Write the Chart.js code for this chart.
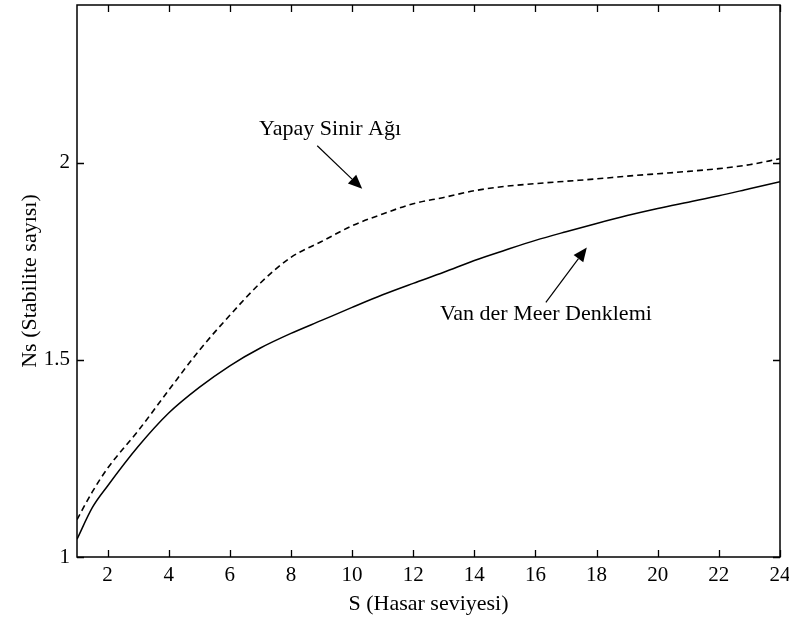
<!DOCTYPE html>
<html>
<head>
<meta charset="utf-8">
<script src="https://cdn.jsdelivr.net/npm/chart.js@4.4.1/dist/chart.umd.min.js"></script>
<style>
  html, body { margin: 0; padding: 0; background: #fff; }
  #wrap { width: 789px; height: 621px; }
</style>
</head>
<body>
<div id="wrap"><canvas id="chart" width="789" height="621"></canvas></div>
<script>
// S values (hasar seviyesi)
let sValues = [1, 1.5, 2, 3, 4, 5, 6, 7, 8, 9, 10, 11, 12, 13, 14, 15, 16, 17, 18, 19, 20, 21, 22, 23, 24];
// solid line
let vanDerMeer = [1.045, 1.125, 1.18, 1.28, 1.365, 1.43, 1.485, 1.53, 1.567, 1.60, 1.633, 1.665, 1.694, 1.722, 1.752, 1.778, 1.803, 1.825, 1.846, 1.866, 1.884, 1.900, 1.916, 1.934, 1.952];
// dashed line
let yapaySinir = [1.095, 1.165, 1.225, 1.32, 1.423, 1.524, 1.613, 1.695, 1.76, 1.80, 1.84, 1.87, 1.896, 1.912, 1.929, 1.94, 1.947, 1.953, 1.959, 1.966, 1.972, 1.978, 1.985, 1.995, 2.01];

let xTicks = [2, 4, 6, 8, 10, 12, 14, 16, 18, 20, 22, 24];
let yTicks = [1, 1.5, 2];

// text labels with arrows, in data units
let notes = [
    { text: 'Yapay Sinir Ağı', x: 9.28, y: 2.086, from: [8.86, 2.043], to: [10.33, 1.934] },
    { text: 'Van der Meer Denklemi', x: 16.34, y: 1.615, from: [16.34, 1.646], to: [17.68, 1.785] }
];

const fontFamily = '"Liberation Serif", "Times New Roman", serif';
const fontSize = 22;
const tickSize = 21;

function toPoints(ys) {
    return sValues.map((s, i) => ({ x: s, y: ys[i] }));
}

function noPadding(scale) {
    scale.paddingTop = 0;
    scale.paddingBottom = 0;
    scale.paddingLeft = 0;
    scale.paddingRight = 0;
}

// border, inward ticks and annotations
const frameAndNotes = {
    id: 'frameAndNotes',
    afterDatasetsDraw(chart) {
        const ctx = chart.ctx;
        const area = chart.chartArea;
        const xs = chart.scales.x;
        const ys = chart.scales.y;
        ctx.save();
        ctx.strokeStyle = '#000';
        ctx.lineWidth = 1.5;
        ctx.strokeRect(area.left, area.top, area.right - area.left, area.bottom - area.top);

        ctx.lineWidth = 1.3;
        ctx.beginPath();
        for (let t of xTicks) {
            let px = Math.round(xs.getPixelForValue(t)) + 0.5;
            ctx.moveTo(px, area.bottom); ctx.lineTo(px, area.bottom - 7);
            ctx.moveTo(px, area.top); ctx.lineTo(px, area.top + 7);
        }
        for (let t of yTicks) {
            let py = Math.round(ys.getPixelForValue(t)) + 0.5;
            ctx.moveTo(area.left, py); ctx.lineTo(area.left + 7, py);
            ctx.moveTo(area.right, py); ctx.lineTo(area.right - 7, py);
        }
        ctx.stroke();

        ctx.fillStyle = '#000';
        ctx.font = fontSize + 'px ' + fontFamily;
        ctx.textAlign = 'center';
        ctx.textBaseline = 'middle';
        for (let n of notes) {
            ctx.fillText(n.text, xs.getPixelForValue(n.x), ys.getPixelForValue(n.y));
            let x1 = xs.getPixelForValue(n.from[0]), y1 = ys.getPixelForValue(n.from[1]);
            let x2 = xs.getPixelForValue(n.to[0]), y2 = ys.getPixelForValue(n.to[1]);
            let ang = Math.atan2(y2 - y1, x2 - x1);
            let head = 14, wide = 6;
            ctx.lineWidth = 1.2;
            ctx.beginPath();
            ctx.moveTo(x1, y1);
            ctx.lineTo(x2 - head * Math.cos(ang), y2 - head * Math.sin(ang));
            ctx.stroke();
            ctx.beginPath();
            ctx.moveTo(x2, y2);
            ctx.lineTo(x2 - head * Math.cos(ang) + wide * Math.sin(ang), y2 - head * Math.sin(ang) - wide * Math.cos(ang));
            ctx.lineTo(x2 - head * Math.cos(ang) - wide * Math.sin(ang), y2 - head * Math.sin(ang) + wide * Math.cos(ang));
            ctx.closePath();
            ctx.fill();
        }
        ctx.restore();
    }
};

const ctx = document.getElementById('chart').getContext('2d');
const chart = new Chart(ctx, {
    type: 'line',
    data: {
        datasets: [
            {
                label: 'Van der Meer Denklemi',
                data: toPoints(vanDerMeer),
                borderColor: '#000',
                borderWidth: 1.5,
                pointRadius: 0,
                cubicInterpolationMode: 'monotone'
            },
            {
                label: 'Yapay Sinir Ağı',
                data: toPoints(yapaySinir),
                borderColor: '#000',
                borderWidth: 1.6,
                borderDash: [6, 4],
                pointRadius: 0,
                cubicInterpolationMode: 'monotone'
            }
        ]
    },
    options: {
        responsive: false,
        animation: false,
        layout: { padding: { top: 5, right: 9, left: 0, bottom: 0 } },
        plugins: { legend: { display: false }, tooltip: { enabled: false } },
        scales: {
            x: {
                type: 'linear',
                min: 1,
                max: 24,
                afterBuildTicks: (scale) => { scale.ticks = xTicks.map(v => ({ value: v })); },
                afterFit: (scale) => { scale.height = 64; noPadding(scale); },
                grid: { display: false, drawTicks: false },
                border: { display: false },
                ticks: { color: '#000', padding: 6, maxRotation: 0, callback: (v) => String(v), font: { family: fontFamily, size: tickSize } },
                title: { display: true, text: 'S (Hasar seviyesi)', color: '#000', padding: { top: 0 }, font: { family: fontFamily, size: fontSize } }
            },
            y: {
                type: 'linear',
                min: 1,
                max: 2.4,
                afterBuildTicks: (scale) => { scale.ticks = yTicks.map(v => ({ value: v })); },
                afterFit: (scale) => { scale.width = 77; noPadding(scale); },
                grid: { display: false, drawTicks: false },
                border: { display: false },
                ticks: { color: '#000', padding: 7, callback: (v) => String(v), font: { family: fontFamily, size: tickSize } },
                title: { display: true, text: 'Ns (Stabilite sayısı)', color: '#000', padding: { top: 17, bottom: 0 }, font: { family: fontFamily, size: fontSize } }
            }
        }
    },
    plugins: [frameAndNotes]
});
</script>
</body>
</html>
